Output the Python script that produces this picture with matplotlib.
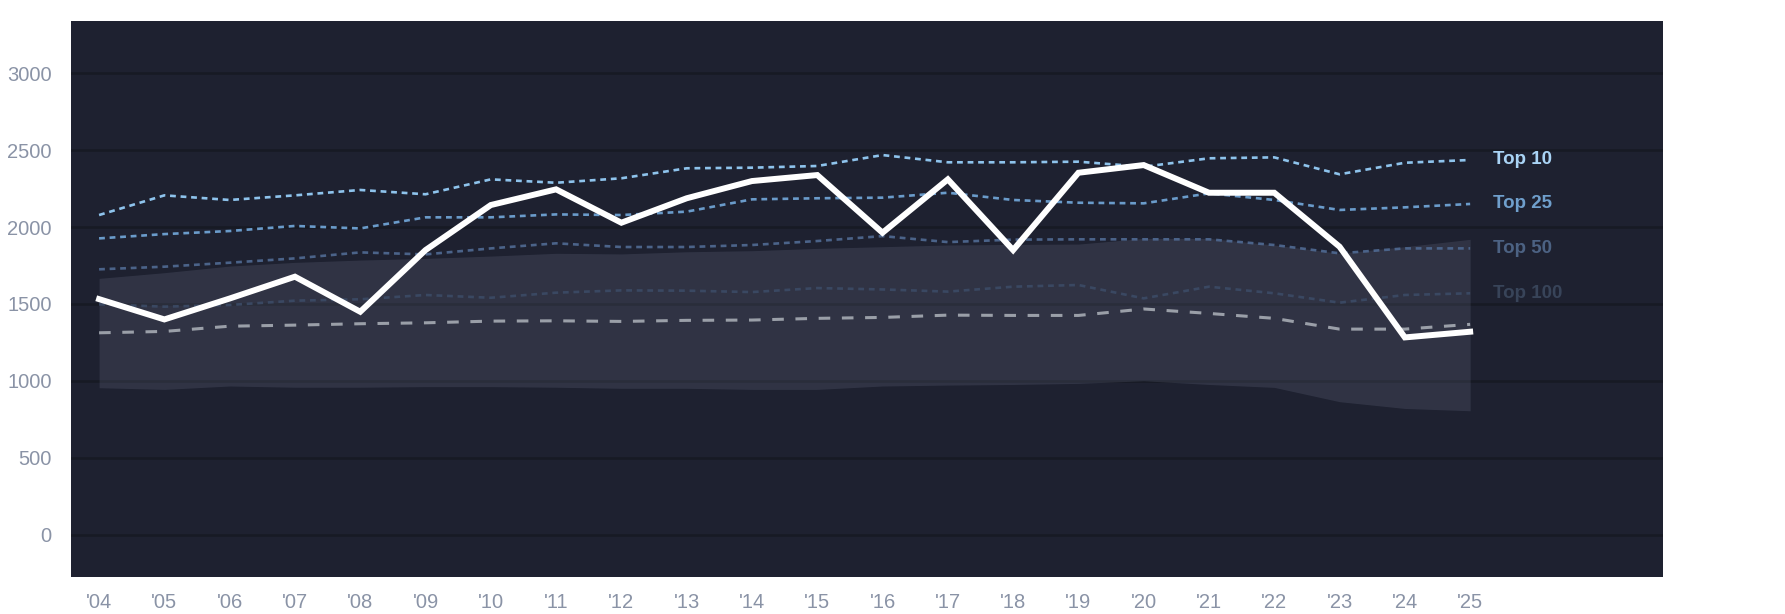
import matplotlib
matplotlib.use("Agg")
import matplotlib.pyplot as plt
import numpy as np

plt.rcParams['font.family'] = ['Liberation Sans', 'DejaVu Sans']

# Datos
years = ["'04", "'05", "'06", "'07", "'08", "'09", "'10", "'11", "'12", "'13", "'14",
         "'15", "'16", "'17", "'18", "'19", "'20", "'21", "'22", "'23", "'24", "'25"]

main_line = [1531, 1399, 1535, 1677, 1449, 1850, 2143, 2245, 2028, 2187, 2299,
             2338, 1963, 2310, 1850, 2353, 2403, 2223, 2223, 1872, 1282, 1319]

top10 = [2078, 2206, 2176, 2206, 2241, 2213, 2310, 2288, 2317, 2382, 2386,
         2397, 2468, 2421, 2421, 2425, 2392, 2447, 2453, 2343, 2418, 2436]
top25 = [1926, 1954, 1974, 2007, 1991, 2063, 2063, 2082, 2078, 2100, 2180,
         2187, 2191, 2223, 2176, 2158, 2154, 2219, 2176, 2111, 2128, 2150]
top50 = [1725, 1742, 1768, 1796, 1835, 1822, 1861, 1894, 1870, 1870, 1883,
         1909, 1941, 1902, 1918, 1920, 1920, 1920, 1883, 1829, 1861, 1861]
top100 = [1497, 1482, 1493, 1521, 1530, 1558, 1540, 1573, 1588, 1586, 1577,
          1603, 1594, 1580, 1612, 1623, 1536, 1612, 1569, 1508, 1558, 1569]
median = [1312, 1321, 1355, 1362, 1371, 1377, 1388, 1390, 1386, 1393, 1395,
          1406, 1412, 1427, 1425, 1425, 1467, 1438, 1406, 1336, 1336, 1367]

band_upper = [1666, 1703, 1746, 1770, 1785, 1796, 1811, 1829, 1825, 1839, 1846,
              1861, 1872, 1883, 1887, 1889, 1926, 1926, 1883, 1829, 1872, 1920]
band_lower = [955, 944, 966, 958, 958, 962, 962, 958, 951, 951, 944,
              944, 966, 972, 976, 983, 1000, 976, 957, 864, 820, 805]

tier_names = ["Top 10", "Top 25", "Top 50", "Top 100"]
tier_colors = ["#8ec3ec", "#6a9bca", "#4b6389", "#3a4862"]
label_colors = ["#a9d3f5", "#6f9fcc", "#4c6283", "#384459"]

x = np.arange(len(years))

fig = plt.figure(figsize=(17.85, 6.14), dpi=100)
ax = fig.add_axes([71 / 1785, (614 - 576.5) / 614, (1663.4 - 71) / 1785, (576.5 - 21) / 614])
ax.set_facecolor('#1e2130')

ax.fill_between(x, band_lower, band_upper, color='#b4bcdc', alpha=0.12, linewidth=0, zorder=2)

for serie, col in zip([top10, top25, top50, top100], tier_colors):
    ax.plot(x, serie, color=col, linewidth=1.9, linestyle=(0, (2.2, 1.8)), zorder=3)

ax.plot(x, median, color='#9a9fa8', linewidth=2.2, linestyle=(0, (3.8, 3.8)), zorder=3)
ax.plot(x, main_line, color='white', linewidth=4.3, zorder=5, solid_joinstyle='miter')

# Etiquetas de los niveles
for serie, name, col in zip([top10, top25, top50, top100], tier_names, label_colors):
    ax.text(x[-1] + 0.35, serie[-1], name, color=col, fontsize=13.5, fontweight='bold',
            va='center', ha='left', zorder=6)

ax.set_xlim(-0.43, 23.96)
ax.set_ylim(-273, 3340)
ax.set_xticks(x)
ax.set_xticklabels(years)
ax.set_yticks(np.arange(0, 3001, 500))
ax.tick_params(axis='both', length=0, labelsize=14.5, colors='#8a93a6')
ax.tick_params(axis='y', pad=14)
ax.tick_params(axis='x', pad=12)

ax.set_axisbelow(True)
ax.grid(axis='y', color='#171a24', linewidth=1.8)
ax.grid(axis='x', visible=False)
for s in ax.spines.values():
    s.set_visible(False)

plt.savefig('out.png', dpi=100, facecolor='white')
plt.close()
